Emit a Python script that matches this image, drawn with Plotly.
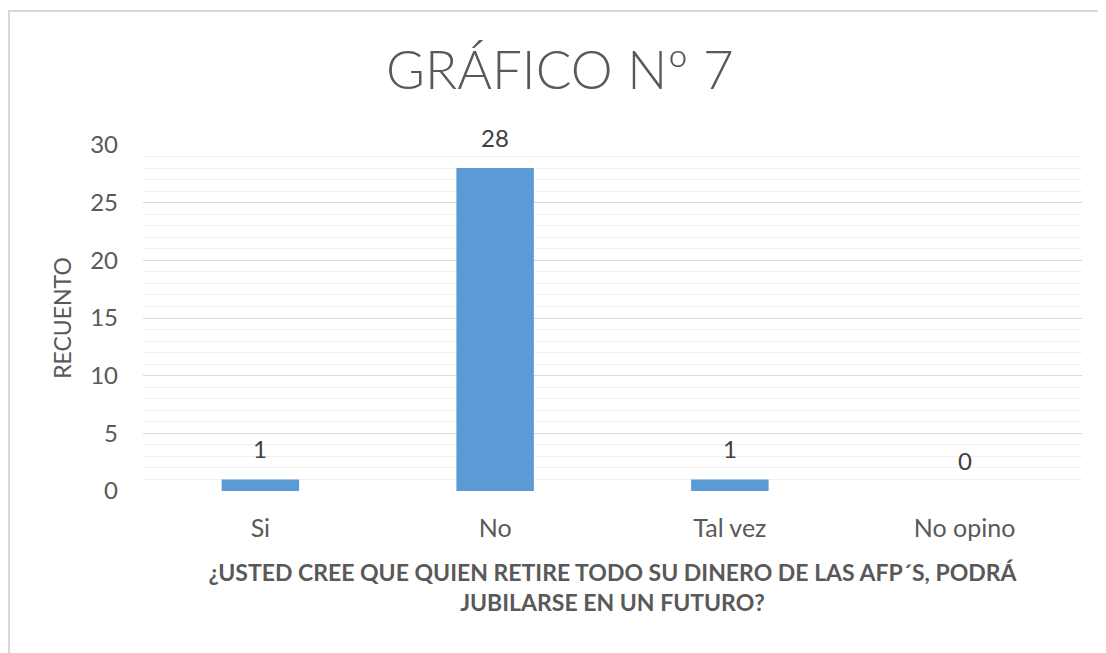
import plotly.graph_objects as go

# datos del gráfico
categorias = ["Si", "No", "Tal vez", "No opino"]
recuento = [1, 28, 1, 0]
etiquetas = ["1", "28", "1", "0"]

titulo = "GRÁFICO Nº 7"
titulo_x = "¿USTED CREE QUE QUIEN RETIRE TODO SU DINERO DE LAS AFP´S, PODRÁ<br>JUBILARSE EN UN FUTURO?"
titulo_y = "RECUENTO"

fuente = "Lato, 'Open Sans', sans-serif"
gris = "#595959"

fig = go.Figure()
fig.add_trace(go.Bar(
    x=categorias,
    y=recuento,
    marker=dict(color="#5b9bd5", line=dict(width=0)),
    width=0.33,
    hoverinfo="x+y",
))

# etiquetas de datos sobre cada barra
for cat, val, txt in zip(categorias, recuento, etiquetas):
    fig.add_annotation(
        x=cat, y=val, text=txt, showarrow=False,
        yshift=31, font=dict(size=24, color="#404040", family=fuente),
    )

# marco exterior del gráfico
fig.add_shape(
    type="rect", xref="paper", yref="paper",
    x0=-0.1427, x1=1.2, y0=-0.6, y1=1.387,
    line=dict(color="#d9d9d9", width=2), layer="below",
)

# la página añade 8 px de margen al cuerpo, se compensa aquí
fig.update_layout(
    width=1106, height=653,
    margin=dict(l=135, r=32, t=137, b=170),
    paper_bgcolor="white", plot_bgcolor="white",
    font=dict(family=fuente, color=gris),
    showlegend=False,
    title=dict(
        text=titulo, x=0.499, xanchor="center", xref="container",
        y=1 - 62 / 653, yanchor="middle", yref="container",
        font=dict(size=53, color=gris, family=fuente, weight=300),
    ),
    xaxis=dict(
        showline=False, showgrid=False, ticks="",
        ticklabelstandoff=20,
        tickfont=dict(size=25, color=gris),
        title=dict(text=titulo_x, standoff=23,
                   font=dict(size=23, color=gris, family=fuente, weight="bold")),
    ),
    yaxis=dict(
        range=[0, 30], dtick=5, tick0=0,
        showline=False, zeroline=False,
        gridcolor="#d9d9d9", gridwidth=1,
        minor=dict(dtick=1, showgrid=True, gridcolor="#f0f0f0", gridwidth=1),
        ticks="", ticklabelstandoff=24,
        tickfont=dict(size=24, color=gris),
        title=dict(text=titulo_y, standoff=12, font=dict(size=23, color=gris)),
    ),
)

fig.write_html("out.html")
